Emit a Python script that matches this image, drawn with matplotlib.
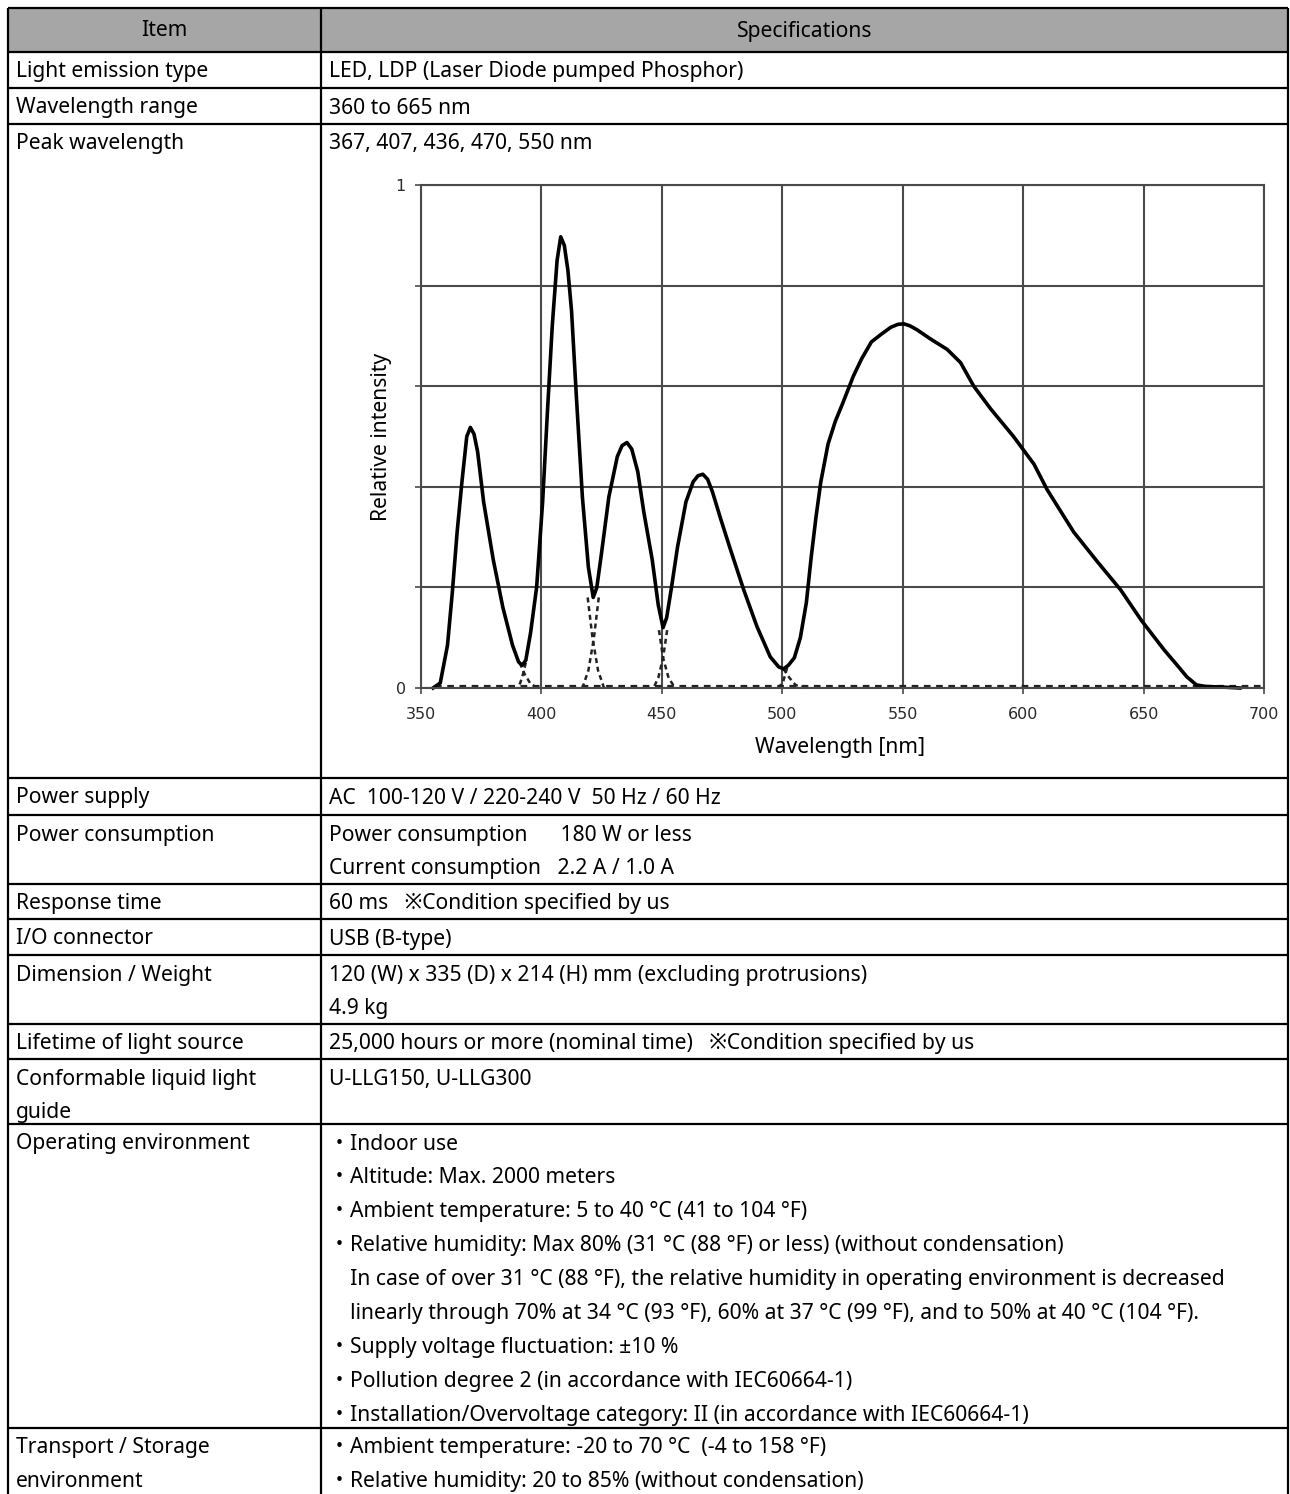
import matplotlib
matplotlib.use('Agg')
import matplotlib.pyplot as plt

plt.rcParams['font.family'] = ['Noto Sans', 'Noto Sans CJK JP', 'DejaVu Sans']

# ---- table content ----
header = ['Item', 'Specifications']

items = [
    ['Light emission type'],
    ['Wavelength range'],
    ['Peak wavelength'],
    ['Power supply'],
    ['Power consumption'],
    ['Response time'],
    ['I/O connector'],
    ['Dimension / Weight'],
    ['Lifetime of light source'],
    ['Conformable liquid light', 'guide'],
    ['Operating environment'],
    ['Transport / Storage', 'environment'],
]

specs = [
    ['LED, LDP (Laser Diode pumped Phosphor)'],
    ['360 to 665 nm'],
    ['367, 407, 436, 470, 550 nm'],
    ['AC  100-120 V / 220-240 V  50 Hz / 60 Hz'],
    ['Power consumption      180 W or less', 'Current consumption   2.2 A / 1.0 A'],
    ['60 ms   \u203bCondition specified by us'],
    ['USB (B-type)'],
    ['120 (W) x 335 (D) x 214 (H) mm (excluding protrusions)', '4.9 kg'],
    ['25,000 hours or more (nominal time)   \u203bCondition specified by us'],
    ['U-LLG150, U-LLG300'],
    ['\u30fbIndoor use',
     '\u30fbAltitude: Max. 2000 meters',
     '\u30fbAmbient temperature: 5 to 40 \u00b0C (41 to 104 \u00b0F)',
     '\u30fbRelative humidity: Max 80% (31 \u00b0C (88 \u00b0F) or less) (without condensation)',
     '\u3000In case of over 31 \u00b0C (88 \u00b0F), the relative humidity in operating environment is decreased',
     '\u3000linearly through 70% at 34 \u00b0C (93 \u00b0F), 60% at 37 \u00b0C (99 \u00b0F), and to 50% at 40 \u00b0C (104 \u00b0F).',
     '\u30fbSupply voltage fluctuation: \u00b110 %',
     '\u30fbPollution degree 2 (in accordance with IEC60664-1)',
     '\u30fbInstallation/Overvoltage category: II (in accordance with IEC60664-1)'],
    ['\u30fbAmbient temperature: -20 to 70 \u00b0C  (-4 to 158 \u00b0F)',
     '\u30fbRelative humidity: 20 to 85% (without condensation)'],
]

# ---- spectrum ----
wl = [355, 358, 361, 363, 365, 367, 369, 370.5, 372, 373.5, 376, 380, 384, 388,
      390.5, 392, 393.5, 395.5, 398, 400.5, 402.5, 404.5, 406.5, 408, 409.5, 411,
      412.5, 414.5, 417, 419.5, 421.5, 423, 425, 428, 431.5, 433.5, 435.5, 437.5,
      440, 442.5, 446, 448.5, 450.5, 452, 454, 456.5, 460, 463, 465, 467, 469, 471,
      474.5, 478.5, 484, 489.5, 495, 498.5, 500.5, 502.5, 505, 507.5, 510, 512, 514,
      516, 519, 522, 525, 529.5, 533, 537, 541, 545, 548, 550.5, 553, 556, 561.5,
      568.5, 574, 579.5, 586.5, 596, 604.5, 610, 621, 631, 640.5, 649, 658.5, 664,
      668, 672, 676, 682, 690]
intensity = [0.0, 0.01, 0.085, 0.19, 0.31, 0.41, 0.50, 0.518, 0.505, 0.47, 0.37, 0.255,
             0.16, 0.085, 0.052, 0.045, 0.055, 0.11, 0.20, 0.37, 0.55, 0.72, 0.85, 0.897,
             0.88, 0.83, 0.75, 0.58, 0.38, 0.24, 0.18, 0.20, 0.27, 0.38, 0.46, 0.482,
             0.488, 0.475, 0.43, 0.35, 0.255, 0.165, 0.12, 0.14, 0.20, 0.28, 0.37, 0.41,
             0.422, 0.425, 0.415, 0.39, 0.335, 0.275, 0.195, 0.122, 0.062, 0.042, 0.038,
             0.045, 0.06, 0.10, 0.17, 0.26, 0.34, 0.41, 0.485, 0.53, 0.565, 0.62, 0.655,
             0.688, 0.703, 0.717, 0.723, 0.724, 0.72, 0.712, 0.694, 0.673, 0.647, 0.60,
             0.555, 0.50, 0.445, 0.394, 0.31, 0.25, 0.195, 0.135, 0.076, 0.045, 0.022,
             0.006, 0.003, 0.002, 0.0]

# dashed tails of the single emitters where they overlap
tails = [
    ([391.0, 393.0, 395.5, 398.5], [0.05, 0.028, 0.008, 0.0]),
    ([393.5, 392.5, 391.2, 390.0], [0.05, 0.03, 0.01, 0.0]),
    ([419.2, 421.2, 423.5, 426.0], [0.18, 0.10, 0.035, 0.0]),
    ([423.8, 421.8, 419.5, 417.0], [0.18, 0.10, 0.035, 0.0]),
    ([448.8, 450.5, 452.8, 455.5], [0.115, 0.06, 0.02, 0.0]),
    ([452.2, 450.5, 448.5, 446.5], [0.115, 0.06, 0.02, 0.0]),
    ([500.5, 503.0, 505.5, 509.0], [0.038, 0.02, 0.006, 0.0]),
    ([502.0, 500.5, 498.5], [0.04, 0.015, 0.0]),
]
baseline_wl = [356, 700]
baseline_val = [0.003, 0.003]

x_ticks = [350, 400, 450, 500, 550, 600, 650, 700]
y_ticks = [0, 0.2, 0.4, 0.6, 0.8, 1.0]
y_ticklabels = ['0', '', '', '', '', '1']

# ---- layout (pixels) ----
W, H = 1290, 1494
left, mid, right = 8, 321, 1288
head_top, head_bot = 8, 52
row_heights = [36, 36, 654, 37, 69, 35, 36, 69, 35, 65, 304, 66]
line_step = 33.9
fs = 15.2

fig = plt.figure(figsize=(W / 100, H / 100), dpi=100)
ax = fig.add_axes([0, 0, 1, 1])
ax.set_xlim(0, W)
ax.set_ylim(H, 0)
ax.axis('off')

ax.add_patch(plt.Rectangle((left, head_top), right - left, head_bot - head_top,
                           facecolor='#a6a6a6', edgecolor='none'))
ax.text((left + mid) / 2, (head_top + head_bot) / 2 + 1, header[0], ha='center', va='center', fontsize=fs)
ax.text((mid + right) / 2, (head_top + head_bot) / 2 + 1, header[1], ha='center', va='center', fontsize=fs)

tops = [head_bot]
for h in row_heights:
    tops.append(tops[-1] + h)

lw = 1.6
ax.hlines([head_top] + tops[:-1], left, right, color='black', lw=lw)
ax.vlines([left, mid, right], head_top, tops[-1], color='black', lw=lw)

for i, (item, spec) in enumerate(zip(items, specs)):
    top = tops[i]
    for k, line in enumerate(item):
        ax.text(16, top + 20 + k * line_step, line, ha='left', va='center', fontsize=fs)
    for k, line in enumerate(spec):
        ax.text(329, top + 20 + k * line_step, line, ha='left', va='center', fontsize=fs)

# ---- spectrum chart inside "Peak wavelength" ----
px0, px1, py0, py1 = 421, 1264, 185, 688
cax = fig.add_axes([px0 / W, (H - py1) / H, (px1 - px0) / W, (py1 - py0) / H])
cax.set_xlim(350, 700)
cax.set_ylim(0, 1)
cax.set_xticks(x_ticks)
cax.set_yticks(y_ticks)
cax.set_yticklabels(y_ticklabels)
cax.set_axisbelow(True)
cax.grid(True, color='#4a4a4a', lw=1.5)
for s in cax.spines.values():
    s.set_color('#4a4a4a')
    s.set_linewidth(1.5)
cax.tick_params(length=4, width=1.2, color='#4a4a4a', pad=7, labelcolor='#2a2a2a')
cax.tick_params(axis='x', pad=10)
for lab in cax.get_xticklabels() + cax.get_yticklabels():
    lab.set_fontfamily('DejaVu Sans')
    lab.set_fontsize(11.5)

cax.plot(baseline_wl, baseline_val, color='#222222', lw=1.6, ls=(0, (3, 2.5)), clip_on=False)
for xs, ys in tails:
    cax.plot(xs, ys, color='#222222', lw=1.8, ls=(0, (2, 1.5)), clip_on=False)
cax.plot(wl, intensity, color='black', lw=2.6, solid_joinstyle='round', clip_on=False)

ax.text(840, 748, 'Wavelength [nm]', ha='center', va='center', fontsize=fs)
ax.text(381, 437, 'Relative intensity', ha='center', va='center', rotation=90, fontsize=fs)

fig.savefig('out.png', dpi=100)
plt.close(fig)
